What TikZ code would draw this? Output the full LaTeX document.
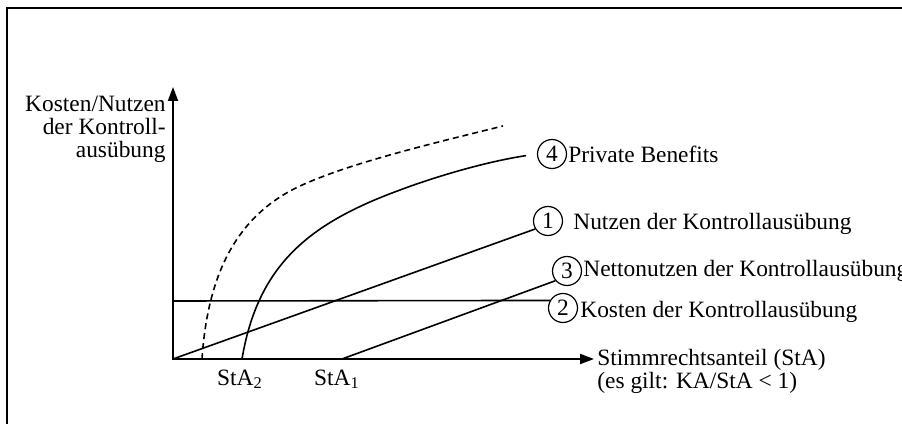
\documentclass[tikz,border=0pt]{standalone}
\usepackage{fontspec}
\setmainfont{Liberation Serif}
\usetikzlibrary{arrows.meta}

\begin{document}
\begin{tikzpicture}[x=.5pt,y=.5pt,
  every node/.style={font=\fontsize{11.7}{11.4}\selectfont},
  num/.style={circle,draw,line width=.6pt,inner sep=0pt,minimum size=14.5pt},
  txt/.style={inner sep=0pt,anchor=base west},
  curve/.style={line width=.8pt},
  axis/.style={line width=1pt,{Triangle[length=7pt,width=5pt]}-{Triangle[length=7pt,width=5pt]}}]

\useasboundingbox (0,0) rectangle (902,424);
\draw [line width=.75pt] (7,0) |- (902,416) ;

% axes
\coordinate (o) at (173,65) ;
\coordinate (ytip) at (173,337) ;
\coordinate (xtip) at (594,65) ;
\draw [axis] (ytip) -- (o) -- (xtip) ;

\node (ylab) [inner sep=0pt,anchor=north east,align=right] at (166,328)
  {Kosten/Nutzen\\der Kontroll-\\ausübung} ;
\node (xlab) [inner sep=0pt,anchor=north west,align=left] at (597,75)
  {Stimmrechtsanteil (StA)\\(es gilt: KA/StA < 1)} ;

% numbered circles and their texts
\node (c4) [num] at (552,270) {4} ;
\node (c1) [num] at (548,203) {1} ;
\node (c3) [num] at (567,153) {3} ;
\node (c2) [num] at (563,116) {2} ;

\node (t4) [txt] at (568,261) {Private Benefits} ;
\node (t1) [txt] at (573,194) {Nutzen der Kontrollausübung} ;
\node (t3) [txt] at (583,147) {Nettonutzen der Kontrollausübung} ;
\node (t2) [txt] at (580,106) {Kosten der Kontrollausübung} ;

% points on the x axis
\coordinate (dstart) at (202,65) ;
\coordinate (sta2) at (242,65) ;
\coordinate (sta1) at (342,65) ;
\coordinate (kost) at (173,123) ;
\coordinate (dend) at (503,298) ;

\node (lsta2) [anchor=base] at (240,39) {StA\textsubscript{2}} ;
\node (lsta1) [anchor=base] at (337,39) {StA\textsubscript{1}} ;

% (2) costs
\draw [curve] (kost) -- (c2.150) ;
% (1) benefit
\draw [curve] (o) -- (c1.212) ;
% (3) net benefit
\draw [curve] (sta1) -- (c3.220) ;
% (4) private benefits
\draw [curve,shorten >=5.5pt] (sta2) .. controls (258,160) and (310,201) .. (400,234)
  .. controls (440,249) and (490,263) .. (c4.west) ;
\draw [curve,dash pattern=on 3pt off 2pt] (dstart) .. controls (208,155) and (240,210) .. (300,238)
  .. controls (350,261) and (430,280) .. (dend) ;

\end{tikzpicture}
\end{document}
